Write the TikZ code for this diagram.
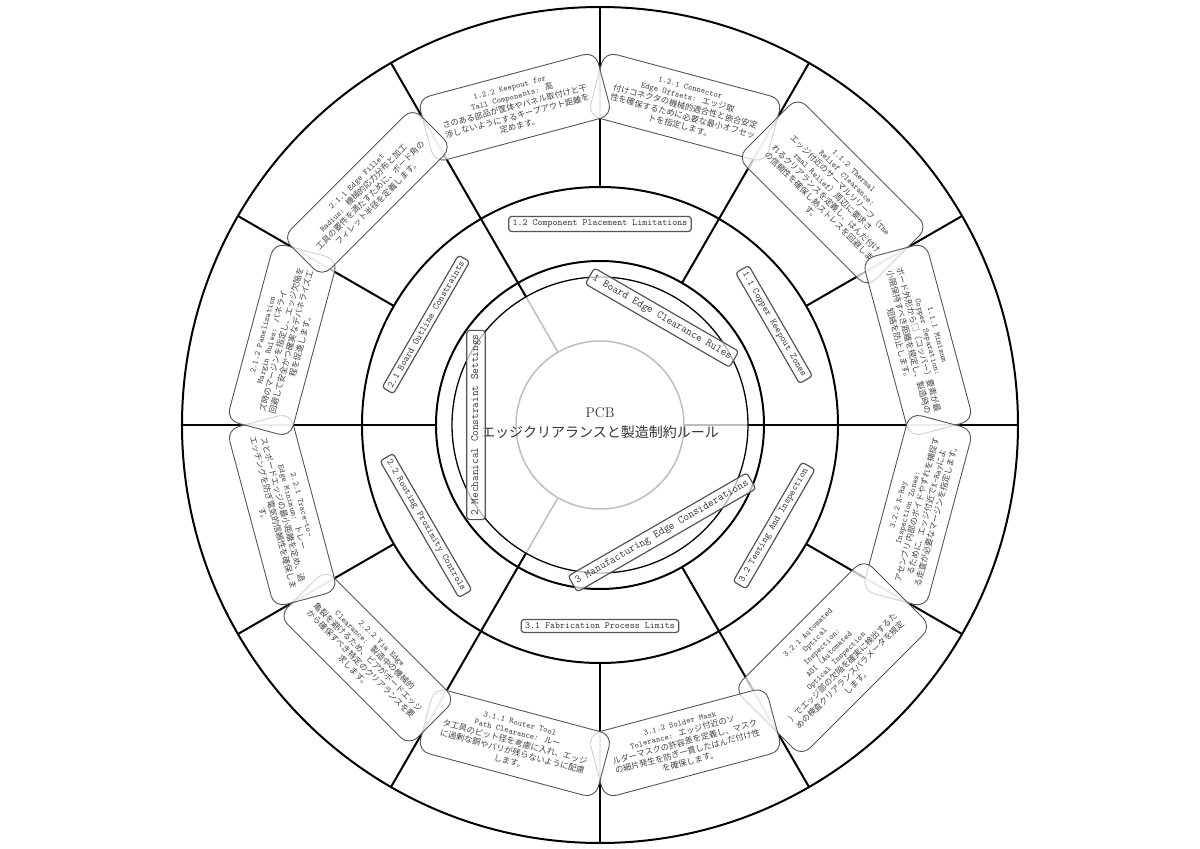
\documentclass[tikz,border=0pt]{standalone}
\usepackage{fontspec}
\newfontfamily\jp{Noto Sans CJK JP}
\newcommand\J[1]{{\jp #1}}
\definecolor{ringgray}{HTML}{BDBDBD}
\definecolor{boxgray}{HTML}{555555}
\definecolor{leaftext}{HTML}{444444}
\definecolor{labeltext}{HTML}{333333}
\begin{document}
\begin{tikzpicture}[
  thickline/.style={line width=2pt, draw=black},
  thinring/.style={line width=1.3pt, draw=black},
  grayline/.style={line width=1.5pt, draw=ringgray},
  leafbox/.style={draw=boxgray, line width=0.9pt, fill=white, fill opacity=0.72, text opacity=1,
    rounded corners=12pt, align=center, minimum width=184pt, inner xsep=6pt, inner ysep=10pt,
    font=\ttfamily\fontsize{8.3}{10}\selectfont, text=leaftext},
  lonebox/.style={draw=boxgray, line width=1.2pt, fill=white, fill opacity=0.72, text opacity=1,
    rounded corners=3pt, inner xsep=4pt, inner ysep=4.5pt,
    font=\ttfamily\fontsize{11}{13}\selectfont, text=labeltext},
  ltwobox/.style={draw=boxgray, line width=1.2pt, fill=white, fill opacity=0.72, text opacity=1,
    rounded corners=3pt, inner xsep=4pt, inner ysep=3.5pt,
    font=\ttfamily\fontsize{9.5}{11}\selectfont, text=labeltext}
]
\useasboundingbox (-600pt,-424pt) rectangle (600pt,425pt);

% rings
\draw[grayline] (0,0) circle (84pt);
\foreach \a in {0,120,240} \draw[grayline] (\a:84pt) -- (\a:148pt);
\draw[thinring] (0,0) circle (148pt);
\draw[thickline] (0,0) circle (164pt);
\draw[thickline] (0,0) circle (238pt);
\draw[thickline] (0,0) circle (418pt);
\foreach \a in {0,120,240} \draw[thickline] (\a:148pt) -- (\a:418pt);
\foreach \a in {60,180,300} \draw[thickline] (\a:164pt) -- (\a:418pt);
\foreach \a in {30,90,150,210,270,330} \draw[thickline] (\a:238pt) -- (\a:418pt);

% centre
\node[align=center, font=\fontsize{14}{20}\selectfont, text=labeltext] (root) at (0pt,2pt)
  {PCB\\\J{エッジクリアランスと製造制約ルール}};

% level 1
\node[lonebox, rotate=-30] (l1) at (60:124pt) {1 Board Edge Clearance Rules};
\node[lonebox, rotate=90] (l2) at (180:124pt) {2 Mechanical Constraint Settings};
\node[lonebox, rotate=30] (l3) at (300:124pt) {3 Manufacturing Edge Considerations};

% level 2
\node[ltwobox, rotate=-60] (l11) at (30:201pt) {1.1 Copper Keepout Zones};
\node[ltwobox] (l12) at (90:201pt) {1.2 Component Placement Limitations};
\node[ltwobox, rotate=60] (l21) at (150:201pt) {2.1 Board Outline Constraints};
\node[ltwobox, rotate=-60] (l22) at (210:201pt) {2.2 Routing Proximity Controls};
\node[ltwobox] (l31) at (270:201pt) {3.1 Fabrication Process Limits};
\node[ltwobox, rotate=60] (l32) at (330:201pt) {3.2 Testing And Inspection};

% leaves
\node[leafbox, rotate=-15] (l121) at (75:329pt)
  {1.2.1 Connector\\Edge Offsets: \J{エッジ取}\\\J{付けコネクタの機械的適合性と嵌合安定}\\\J{性を確保するために必要な最小オフセッ}\\\J{トを指定します。}};
\node[leafbox, rotate=15] (l122) at (105:329pt)
  {1.2.2 Keepout for\\Tall Components: \J{高}\\\J{さのある部品が筐体やパネル取付けと干}\\\J{渉しないようにするキープアウト距離を}\\\J{定めます。}};
\node[leafbox, rotate=-45] (l112) at (45:329pt)
  {1.1.2 Thermal\\Relief Clearance:\\\J{エッジ付近のサーマルリリーフ（}The\\rmal Relief\J{）周辺に要求さ}\\\J{れるクリアランスを定義し、はんだ付け}\\\J{の信頼性を確保し熱ストレスを回避しま}\\\J{す。}};
\node[leafbox, rotate=-75] (l111) at (15:329pt)
  {1.1.1 Minimum\\Copper Separation:\\\J{ボード外形から□（コッパー）要素が最}\\\J{小限保持すべき距離を規定し、製造時の}\\\J{短絡を防止します。}};
\node[leafbox, rotate=75] (l322) at (-15:329pt)
  {3.2.2 X-Ray\\Inspection Zones:\\\J{アセンブリ内部のボイドやずれを捕捉す}\\\J{るために、エッジ付近で}X-Ray\J{によ}\\\J{る走査が必要なマージンを指定します。}};
\node[leafbox, rotate=45] (l321) at (-45:329pt)
  {3.2.1 Automated\\Optical\\Inspection:\\AOI\J{（}Automated\\Optical Inspection\\\J{）でエッジ部の欠陥を確実に検出するた}\\\J{めの検査クリアランスパラメータを規定}\\\J{します。}};
\node[leafbox, rotate=15] (l312) at (-75:329pt)
  {3.1.2 Solder Mask\\Tolerance: \J{エッジ付近のソ}\\\J{ルダーマスクの許容差を定義し、マスク}\\\J{の細片発生を防ぎ一貫したはんだ付け性}\\\J{を確保します。}};
\node[leafbox, rotate=-15] (l311) at (-105:329pt)
  {3.1.1 Router Tool\\Path Clearance: \J{ルー}\\\J{タ工具のビット径を考慮に入れ、エッジ}\\\J{に過剰な銅やバリが残らないように配慮}\\\J{します。}};
\node[leafbox, rotate=-45] (l222) at (-135:329pt)
  {2.2.2 Via Edge\\Clearance: \J{製造中の機械的}\\\J{亀裂を避けるため、ビアがボードエッジ}\\\J{から確保すべき特定のクリアランスを要}\\\J{求します。}};
\node[leafbox, rotate=-75] (l221) at (-165:329pt)
  {2.2.1 Trace-to-\\Edge Minimum: \J{トレー}\\\J{スとボードエッジの最小距離を定め、過}\\\J{エッチングを防ぎ電気的信頼性を確保しま}\\\J{す。}};
\node[leafbox, rotate=75] (l212) at (165:329pt)
  {2.1.2 Panelization\\Margin Rules: \J{パネライ}\\\J{ズ時のマージンを指定し、エッジ欠陥を}\\\J{回避して安全かつ確実なデパネライズ工}\\\J{程を促進します。}};
\node[leafbox, rotate=45] (l211) at (135:329pt)
  {2.1.1 Edge Fillet\\Radius: \J{機械的応力分布と加工}\\\J{工具の要件を満たすために、ボード角の}\\\J{フィレット半径を定義します。}};
\end{tikzpicture}
\end{document}
